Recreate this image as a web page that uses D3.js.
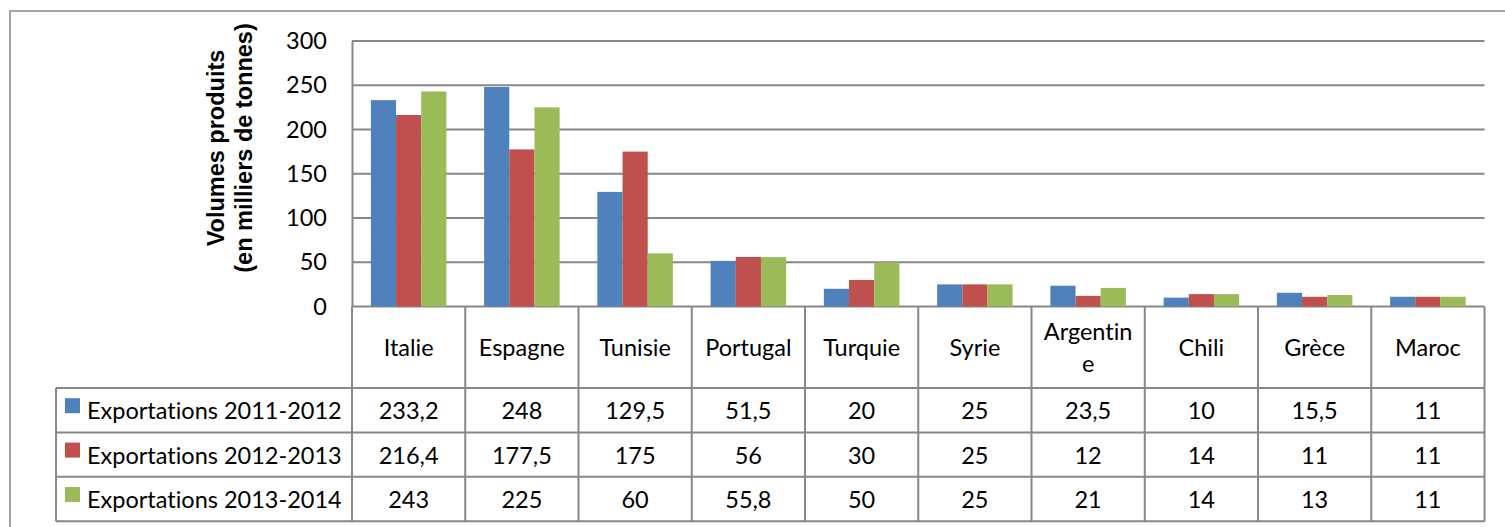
<!DOCTYPE html>
<html>
<head>
<meta charset="utf-8">
<script src="https://cdn.jsdelivr.net/npm/d3@7"></script>
<style>
  html, body { margin: 0; padding: 0; background: #fff; }
  svg { display: block; }
  text { font-variant-ligatures: none; font-feature-settings: "liga" 0; }
</style>
</head>
<body>
<svg id="chart" width="1505" height="527"></svg>
<script>
// Exported volumes by country and campaign (thousands of tonnes)
const categories = ["Italie", "Espagne", "Tunisie", "Portugal", "Turquie", "Syrie", "Argentine", "Chili", "Grèce", "Maroc"];
// Header cell text, broken where the narrow cell forces a wrap
const categoryLines = [["Italie"], ["Espagne"], ["Tunisie"], ["Portugal"], ["Turquie"], ["Syrie"], ["Argentin", "e"], ["Chili"], ["Grèce"], ["Maroc"]];
const seriesNames = ["Exportations 2011-2012", "Exportations 2012-2013", "Exportations 2013-2014"];
const exports2011 = [233.2, 248, 129.5, 51.5, 20, 25, 23.5, 10, 15.5, 11];
const exports2012 = [216.4, 177.5, 175, 56, 30, 25, 12, 14, 11, 11];
const exports2013 = [243, 225, 60, 55.8, 50, 25, 21, 14, 13, 11];
const yTicks = [0, 50, 100, 150, 200, 250, 300];
const axisTitle = ["Volumes produits", "(en milliers de tonnes)"];

const seriesValues = [exports2011, exports2012, exports2013];
const colors = ["#4F81BD", "#C0504D", "#9BBB59"];
const gridColor = "#878787";
const textFont = "Lato, 'Open Sans', sans-serif";
const textSize = 23.5;

const svg = d3.select("#chart");

// Outer chart frame (only its top and left edges fall inside the view)
svg.append("path")
  .attr("d", "M10,540 V11 H1520")
  .attr("fill", "none")
  .attr("stroke", "#a6a6a6")
  .attr("stroke-width", 2);

const plot = { left: 352, right: 1484.5, top: 41, bottom: 306.5 };
const table = { left: 56, headerBottom: 388, rowH: 44.4 };

const x = d3.scaleBand().domain(categories).range([plot.left, plot.right]).padding(0);
const xSub = d3.scaleBand().domain(d3.range(3)).range([0, x.bandwidth()])
  .paddingInner(0).paddingOuter(0.75);
const y = d3.scaleLinear().domain([0, 300]).range([plot.bottom, plot.top]);

// Horizontal gridlines
svg.append("g").selectAll("line").data(yTicks).join("line")
  .attr("x1", plot.left).attr("x2", plot.right)
  .attr("y1", d => y(d)).attr("y2", d => y(d))
  .attr("stroke", gridColor).attr("stroke-width", 2);

// Bars
const groups = svg.append("g").selectAll("g").data(categories).join("g")
  .attr("transform", d => `translate(${x(d)},0)`);
groups.selectAll("rect")
  .data((c, i) => seriesValues.map((s, k) => ({ k, v: s[i] })))
  .join("rect")
  .attr("x", d => xSub(d.k))
  .attr("width", xSub.bandwidth())
  .attr("y", d => y(d.v))
  .attr("height", d => y(0) - y(d.v))
  .attr("fill", d => colors[d.k]);

// Y axis line and tick labels
const yAxis = d3.axisLeft(y).tickValues(yTicks).tickSize(0).tickPadding(25);
const yg = svg.append("g").attr("transform", `translate(${plot.left},0)`).call(yAxis);
yg.select(".domain").attr("stroke", gridColor).attr("stroke-width", 2);
yg.selectAll("text")
  .attr("font-family", textFont)
  .attr("font-size", textSize)
  .attr("fill", "#000");

// Axis title, two rotated lines
const title = svg.append("text")
  .attr("transform", "translate(0,148) rotate(-90)")
  .attr("font-family", "'Liberation Sans', Arial, sans-serif")
  .attr("font-weight", "bold")
  .attr("font-size", 23.5)
  .attr("text-anchor", "middle")
  .attr("fill", "#000");
title.selectAll("tspan").data(axisTitle).join("tspan")
  .attr("x", 0)
  .attr("y", (d, i) => i === 0 ? 224 : 252)
  .text(d => d);

// Data table
const tableBottom = table.headerBottom + 3 * table.rowH;
const fmt = d3.formatLocale({ decimal: ",", thousands: " ", grouping: [3], currency: ["", ""] }).format(",~f");
const tg = svg.append("g");

// Vertical cell borders (category boundaries)
const boundaries = categories.map(c => x(c)).concat([plot.right]);
tg.selectAll("line.v").data(boundaries).join("line")
  .attr("class", "v")
  .attr("x1", d => d).attr("x2", d => d)
  .attr("y1", plot.bottom).attr("y2", tableBottom)
  .attr("stroke", gridColor).attr("stroke-width", 2);
// Legend column left border
tg.append("line")
  .attr("x1", table.left).attr("x2", table.left)
  .attr("y1", table.headerBottom).attr("y2", tableBottom)
  .attr("stroke", gridColor).attr("stroke-width", 2);
// Horizontal row borders
const rowLines = d3.range(4).map(i => table.headerBottom + i * table.rowH);
tg.selectAll("line.h").data(rowLines).join("line")
  .attr("class", "h")
  .attr("x1", table.left).attr("x2", plot.right)
  .attr("y1", d => d).attr("y2", d => d)
  .attr("stroke", gridColor).attr("stroke-width", 2);

// Category header labels
const headerMid = (plot.bottom + table.headerBottom) / 2;
const lineGap = 32;
const hdr = tg.selectAll("text.cat").data(categories).join("text")
  .attr("class", "cat")
  .attr("font-family", textFont)
  .attr("font-size", textSize)
  .attr("text-anchor", "middle")
  .attr("fill", "#000");
hdr.each(function (c, i) {
  const lines = categoryLines[i];
  const cx = x(c) + x.bandwidth() / 2;
  const y0 = headerMid - (lines.length - 1) * lineGap / 2;
  d3.select(this).selectAll("tspan").data(lines).join("tspan")
    .attr("x", cx)
    .attr("y", (d, j) => y0 + j * lineGap)
    .attr("dominant-baseline", "central")
    .text(d => d);
});

// Series rows: legend key + values
seriesNames.forEach((name, k) => {
  const rowMid = table.headerBottom + k * table.rowH + table.rowH / 2;
  tg.append("rect")
    .attr("x", 65).attr("y", rowMid - 12)
    .attr("width", 15).attr("height", 15)
    .attr("fill", colors[k]);
  tg.append("text")
    .attr("x", 87).attr("y", rowMid)
    .attr("dominant-baseline", "central")
    .attr("font-family", textFont)
    .attr("font-size", textSize)
    .attr("fill", "#000")
    .text(name);
  tg.selectAll(null).data(seriesValues[k]).join("text")
    .attr("x", (d, i) => x(categories[i]) + x.bandwidth() / 2)
    .attr("y", rowMid)
    .attr("dominant-baseline", "central")
    .attr("text-anchor", "middle")
    .attr("font-family", textFont)
    .attr("font-size", textSize)
    .attr("fill", "#000")
    .text(d => fmt(d));
});
</script>
</body>
</html>
